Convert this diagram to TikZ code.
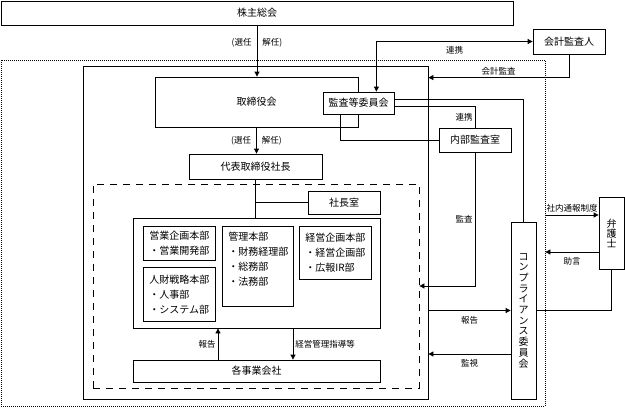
\documentclass[tikz,border=0pt]{standalone}
\usepackage{fontspec}
\setmainfont{Noto Sans CJK JP}
\usetikzlibrary{arrows.meta}

\begin{document}
\begin{tikzpicture}[x=1pt, y=-1pt, line width=0.8pt,
  box/.style={draw, fill=white, inner sep=0pt, font=\fontsize{10}{12}\selectfont},
  dept/.style={box, anchor=north west, align=left, inner xsep=6pt, font=\fontsize{10}{15}\selectfont},
  frame/.style={draw, inner sep=0pt},
  tate/.style={box, align=center, minimum width=25pt},
  lbl/.style={font=\fontsize{8.5}{10}\selectfont, inner sep=2pt},
  arr/.style={-{Triangle[length=5pt,width=5pt]}},
  darr/.style={{Triangle[length=5pt,width=5pt]}-{Triangle[length=5pt,width=5pt]}}]
\useasboundingbox (0,0) rectangle (625,408);
\node[frame, dash pattern=on 1pt off 1pt, minimum width=544pt, minimum height=346pt] (kigyo) at (273,233) {};
\node[frame, minimum width=345pt, minimum height=333pt] (kaisha) at (255.5,232.5) {};
\node[frame, dash pattern=on 7pt off 6pt, minimum width=326pt, minimum height=204pt] (gruppe) at (256,286) {};
\node[box, minimum width=512pt, minimum height=24pt] (soukai) at (257,13) {株主総会};
\node[box, minimum width=203pt, minimum height=50pt] (torishimari) at (256.5,102) {取締役会};
\node[box, minimum width=71pt, minimum height=22pt] (kansa) at (358.5,103) {監査等委員会};
\node[box, minimum width=72pt, minimum height=25pt] (kaikei) at (569,41.5) {会計監査人};
\node[box, minimum width=72pt, minimum height=24pt] (naibu) at (475,140) {内部監査室};
\node[box, minimum width=133pt, minimum height=25pt] (shacho) at (255.5,166.5) {代表取締役社長};
\node[box, minimum width=72pt, minimum height=23pt] (shitsu) at (344,202.5) {社長室};
\node[frame, minimum width=247pt, minimum height=110pt] (honbu) at (256.5,273) {};
\node[dept, text width=60pt, minimum height=34pt] (eigyo) at (143,226) {営業企画本部\\・営業開発部};
\node[dept, text width=60pt, minimum height=54pt] (jinzai) at (143,267) {人財戦略本部\\・人事部\\・システム部};
\node[dept, text width=59pt, minimum height=80pt] (kanri) at (222,226) {管理本部\\・財務経理部\\・総務部\\・法務部\\\mbox{}};
\node[dept, text width=60pt, minimum height=53pt] (keiei) at (299,226) {経営企画本部\\・経営企画部\\・広報IR部};
\node[box, minimum width=247pt, minimum height=22pt] (jigyo) at (256.5,371) {各事業会社};
\node[tate, minimum height=177pt, font=\fontsize{10}{10.7}\selectfont] (compliance) at (523.5,310.5) {コ\\ン\\プ\\ラ\\イ\\ア\\ン\\ス\\委\\員\\会};
\node[tate, minimum height=72pt, font=\fontsize{10}{10}\selectfont] (bengoshi) at (611.5,233) {弁\\護\\士};
\draw[arr] (soukai.south) -- (soukai.south |- torishimari.north)
  node[lbl, pos=0.33, left=3pt] {(選任} node[lbl, pos=0.33, right=3pt] {解任)};
\draw[arr] (torishimari.south) -- (torishimari.south |- shacho.north)
  node[lbl, midway, left=3pt] {(選任} node[lbl, midway, right=3pt] {解任)};
\draw[darr] (kaikei.west) -| ([xshift=-18pt]kansa.north east) node[lbl, pos=0.25, below=2pt] {連携};
\draw[arr] (kaikei.south) |- ([yshift=-12pt]kaisha.north east) node[lbl, pos=0.75, above] {会計監査};
\draw ([xshift=18pt]kansa.south west) |- (naibu.west);
\draw ([yshift=-3pt]kansa.east) -| (naibu.north) node[lbl, pos=0.75, left] {連携};
\draw ([yshift=4pt]kansa.east) -| (compliance.north);
\draw[arr] (naibu.south) |- (gruppe.east) node[lbl, pos=0.25, left] {監査};
\draw (shacho.south) -- (shacho.south |- honbu.north);
\draw (shacho.south |- shitsu.west) -- (shitsu.west);
\draw[arr] ([xshift=-38.5pt]jigyo.north) -- ([xshift=-38.5pt]honbu.south) node[lbl, midway, left] {報告};
\draw[arr] ([xshift=36.5pt]honbu.south) -- ([xshift=36.5pt]jigyo.north) node[lbl, midway, right] {経営管理指導等};
\draw[arr] (kaisha.east |- compliance.west) -- (compliance.west) node[lbl, midway, below=3pt] {報告};
\draw[arr] ([yshift=-43.5pt]compliance.west) -- ([yshift=-43.5pt]compliance.west -| kaisha.east) node[lbl, midway, below=3pt] {監視};
\draw (bengoshi.south) |- (compliance.east);
\draw[arr] ([yshift=18pt]kigyo.east) -- ([yshift=18pt]bengoshi.west) node[lbl, midway, above] {社内通報制度};
\draw[arr] ([yshift=-19pt]bengoshi.west) -- ([yshift=-19pt]kigyo.east) node[lbl, midway, below=3pt] {助言};
\end{tikzpicture}
\end{document}
